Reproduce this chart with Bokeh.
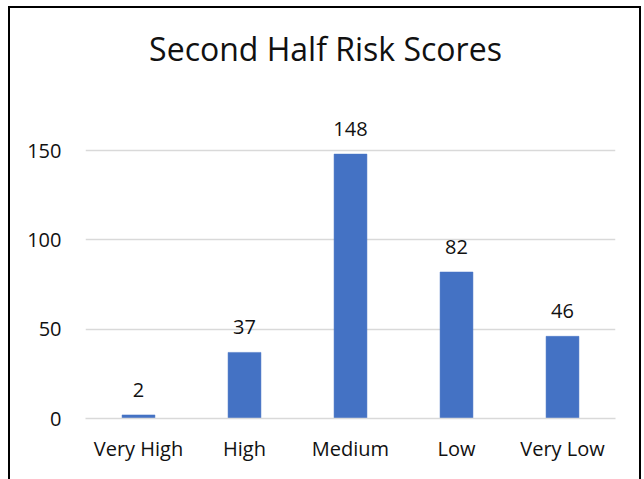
from bokeh.plotting import figure
from bokeh.models import (ColumnDataSource, FactorRange, Range1d, FixedTicker,
                          LabelSet, Label)
from bokeh.layouts import column
from bokeh.core.properties import value
from bokeh.embed import file_html
from bokeh.resources import INLINE

categories = ["Very High", "High", "Medium", "Low", "Very Low"]
scores = [2, 37, 148, 82, 46]
y_ticks = [0, 50, 100, 150]
title_text = "Second Half Risk Scores"

FONT = "Open Sans"
BAR = "#4472C4"
GRID = "#D9D9D9"
TEXT = "#111111"

src = ColumnDataSource(dict(cat=categories, val=scores,
                            lab=[str(v) for v in scores]))

# frame spans the full height above the x axis so the title and the top
# data label sit inside it; only the 0-150 gridlines are drawn
p = figure(width=629, height=471, output_backend="svg", toolbar_location=None,
           x_range=FactorRange(*categories, range_padding=0),
           y_range=Range1d(0, 229.5),
           min_border_left=75, min_border_right=24,
           min_border_top=0, min_border_bottom=61)
p.outline_line_color = None
p.background_fill_color = "white"
p.border_fill_color = "white"

p.vbar(x="cat", top="val", width=0.31, source=src,
       fill_color=BAR, line_color=BAR, line_width=0.5)

p.add_layout(LabelSet(x="cat", y="val", text="lab", source=src,
                      y_offset=18, text_align="center",
                      text_baseline="alphabetic",
                      text_font=value(FONT), text_font_size="20px",
                      text_color=TEXT))

p.add_layout(Label(x=2.5, y=207.1, x_offset=-25, text=title_text,
                   text_align="center", text_baseline="alphabetic",
                   text_font=FONT, text_font_size="32px",
                   text_color=TEXT))

p.yaxis.ticker = FixedTicker(ticks=y_ticks)
p.yaxis.axis_line_color = None
p.yaxis.major_tick_line_color = None
p.yaxis.minor_tick_line_color = None
p.yaxis.major_label_standoff = 18
p.yaxis.major_label_text_font = FONT
p.yaxis.major_label_text_font_size = "20px"
p.yaxis.major_label_text_color = TEXT

p.xaxis.axis_line_color = GRID
p.xaxis.axis_line_width = 1.5
p.xaxis.major_tick_line_color = None
p.xaxis.minor_tick_line_color = None
p.xaxis.major_label_standoff = 10
p.xaxis.major_label_text_font = FONT
p.xaxis.major_label_text_font_size = "20px"
p.xaxis.major_label_text_color = TEXT

p.xgrid.grid_line_color = None
p.ygrid.grid_line_color = GRID
p.ygrid.grid_line_width = 1.3

layout = column(p, styles={"margin-left": "8px", "margin-top": "6px",
                           "border": "2px solid black",
                           "border-bottom": "none"})

open("out.html", "w").write(file_html(layout, INLINE))
